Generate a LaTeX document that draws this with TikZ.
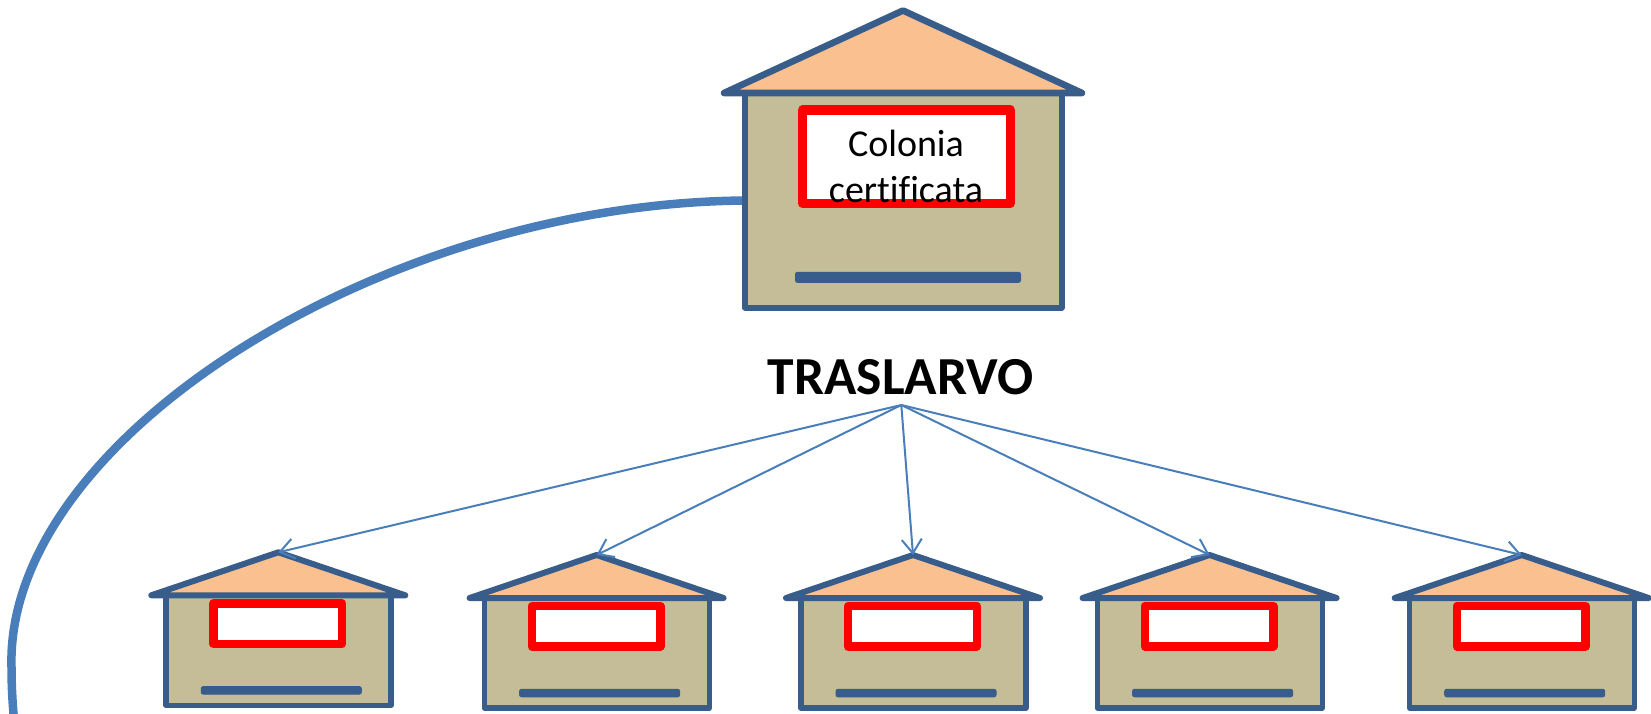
\documentclass[tikz,border=0pt]{standalone}
\usepackage{fontspec}
\setmainfont[Ligatures=NoCommon]{Carlito}
\usetikzlibrary{arrows.meta}
\definecolor{hline}{HTML}{385D8A}
\definecolor{hroof}{HTML}{FAC090}
\definecolor{hbody}{HTML}{C4BD97}
\definecolor{hlink}{HTML}{4A7EBB}
\tikzset{
  x=1pt,y=-1pt,
  roofshape/.style={draw=hline,fill=hroof,line width=#1,line join=round,line cap=round},
  bodyshape/.style={draw=hline,fill=hbody,line width=#1,line join=round,inner sep=0pt,outer sep=0pt},
  signshape/.style={draw=red,fill=white,line width=#1,line join=round,inner sep=0pt,outer sep=0pt},
  barshape/.style={draw=hline,fill=hline,line width=1pt,rounded corners=2pt,inner sep=0pt,outer sep=0pt},
  linkarrow/.style={draw=hlink,line width=2pt,-{Straight Barb[length=14pt,width=20pt,line width=2pt]}},
}
% name, apex x, apex y
\newcommand{\smallhouse}[3]{%
  \node[bodyshape=5.4pt,minimum width=225pt,minimum height=110pt,anchor=north west] (#1body) at (#2-112.2,#3+43) {};
  \coordinate (#1apex) at (#2,#3);
  \draw[roofshape=6pt] (#2-127,#3+43) -- (#1apex) -- (#2+127,#3+43) -- cycle;
  \node[signshape=8.4pt,minimum width=128.5pt,minimum height=40.5pt,anchor=north west] (#1sign) at (#2-64.8,#3+51) {};
  \node[barshape,minimum width=160pt,minimum height=7.5pt,anchor=north west] (#1bar) at (#2-77,#3+134.3) {};
}
\begin{document}
\begin{tikzpicture}
\useasboundingbox (0,0) rectangle (1651,713);
\coordinate (curvestart) at (746,200.5);
\coordinate (curvemid) at (11.5,667);
\coordinate (curveend) at (15,730);
\draw[hlink,line width=8.5pt] (curvestart) .. controls (380,203) and (5,440) .. (curvemid) .. controls (11.5,690) and (13,710) .. (curveend);
% main house
\node[bodyshape=6pt,minimum width=316.5pt,minimum height=214.5pt,anchor=north west] (mainbody) at (745,93) {};
\coordinate (mainapex) at (903,10.5);
\draw[roofshape=6.6pt] (724,93) -- (mainapex) -- (1082,93) -- cycle;
\node[signshape=9.4pt,minimum width=207.5pt,minimum height=93.5pt,anchor=north west] (mainsign) at (802.7,110) {};
\node[font=\fontsize{38}{46}\selectfont,align=center,inner sep=0pt] (maintext) at (906,166) {Colonia\\certificata};
\node[barshape,minimum width=225pt,minimum height=10pt,anchor=north west] (mainbar) at (795.5,272.3) {};
% label
\node[font=\bfseries\fontsize{53.5}{60}\selectfont,anchor=base,inner sep=0pt] (label) at (900.5,394.3) {TRASLARVO};
\coordinate (hub) at (901.3,405);
% small houses
\smallhouse{a}{278.3}{552.3}
\smallhouse{b}{596.6}{555}
\smallhouse{c}{913}{555}
\smallhouse{d}{1209.6}{555}
\smallhouse{e}{1521.7}{555}
\foreach \h in {a,b,c,d,e}{\draw[linkarrow] (hub) -- (\h apex);}
\end{tikzpicture}
\end{document}
